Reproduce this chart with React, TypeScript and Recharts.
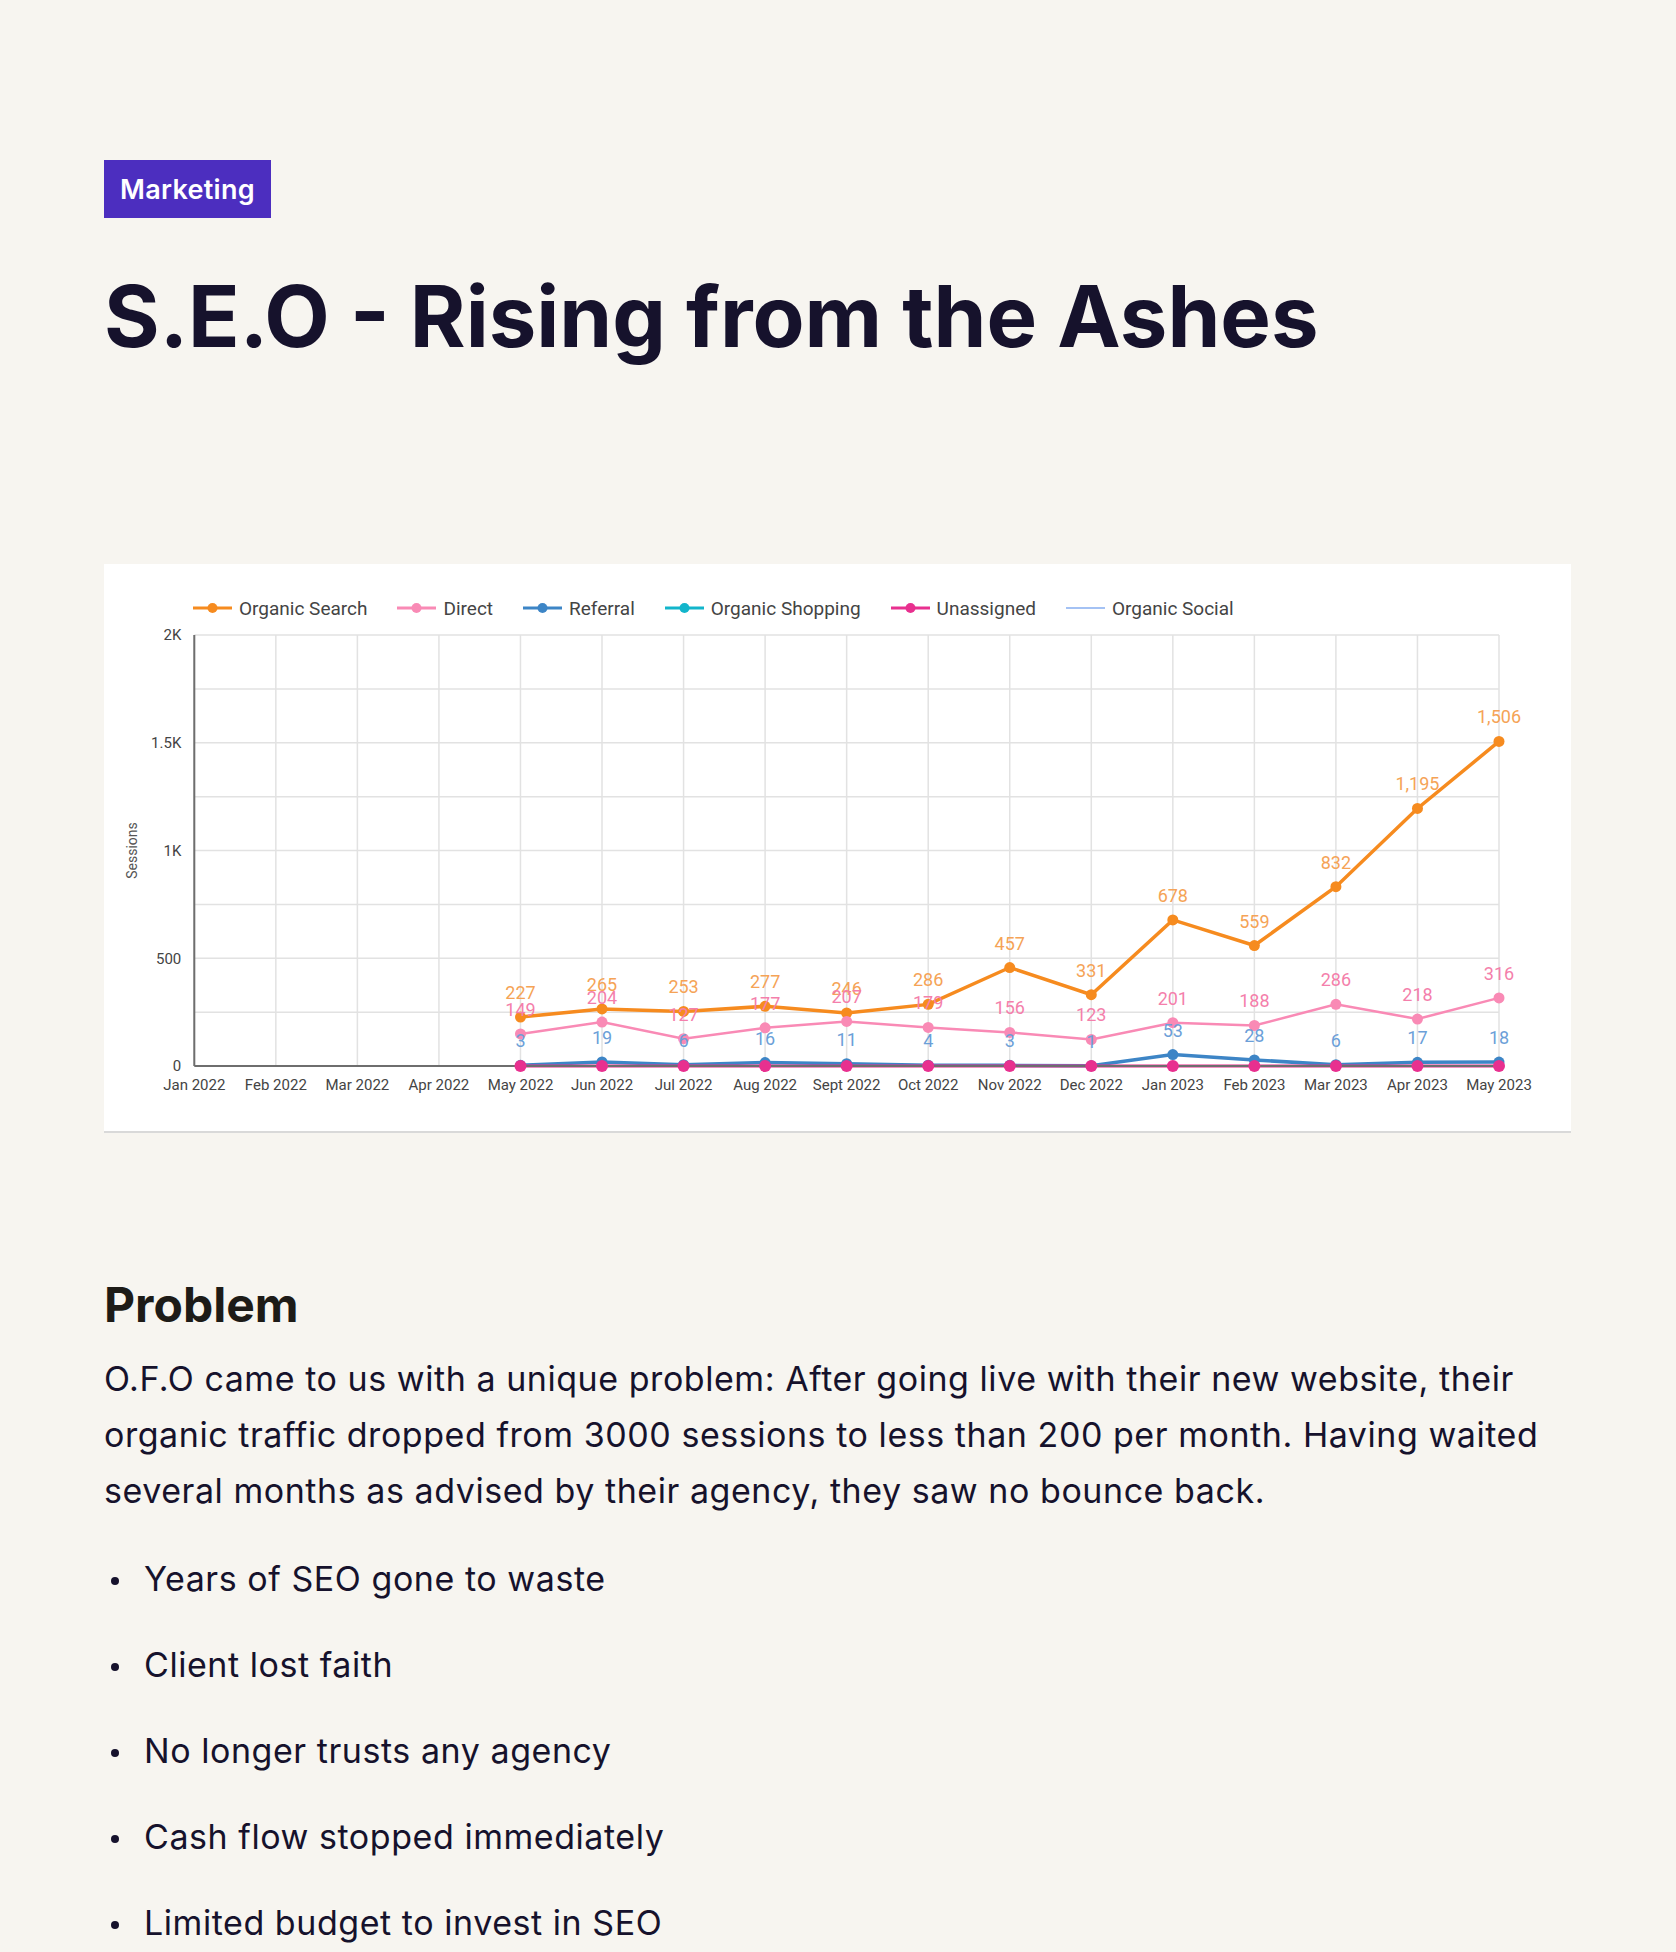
import { LineChart, Line, XAxis, YAxis, CartesianGrid, Legend, LabelList } from 'recharts';

// monthly sessions per channel (GA4 export)
const months = [
  'Jan 2022', 'Feb 2022', 'Mar 2022', 'Apr 2022', 'May 2022', 'Jun 2022', 'Jul 2022', 'Aug 2022',
  'Sept 2022', 'Oct 2022', 'Nov 2022', 'Dec 2022', 'Jan 2023', 'Feb 2023', 'Mar 2023', 'Apr 2023', 'May 2023',
];
const organicSearch = [null, null, null, null, 227, 265, 253, 277, 246, 286, 457, 331, 678, 559, 832, 1195, 1506];
const direct = [null, null, null, null, 149, 204, 127, 177, 207, 179, 156, 123, 201, 188, 286, 218, 316];
const referral = [null, null, null, null, 3, 19, 6, 16, 11, 4, 3, 1, 53, 28, 6, 17, 18];
const organicShopping = [null, null, null, null, null, null, null, null, null, null, null, null, null, null, null, null, null];
const unassigned = [null, null, null, null, 0, 0, 0, 0, 0, 0, 0, 0, 0, 0, 0, 0, 0];
const organicSocial = [null, null, null, null, null, null, null, null, null, null, null, null, null, null, null, null, null];

const yTicks = [0, 250, 500, 750, 1000, 1250, 1500, 1750, 2000];
const yTickLabels: Record<number, string> = { 0: '0', 500: '500', 1000: '1K', 1500: '1.5K', 2000: '2K' };

const bullets = [
  'Years of SEO gone to waste',
  'Client lost faith',
  'No longer trusts any agency',
  'Cash flow stopped immediately',
  'Limited budget to invest in SEO',
];

const series = [
  { key: 'organicSearch', name: 'Organic Search', color: '#f68b1f', labelColor: '#f5a356', width: 3.5, r: 5.5, dot: true, labels: true },
  { key: 'direct', name: 'Direct', color: '#f98ab5', labelColor: '#f47fab', width: 2.5, r: 5.5, dot: true, labels: true },
  { key: 'referral', name: 'Referral', color: '#3d85c6', labelColor: '#6c9fd8', width: 3.5, r: 5.5, dot: true, labels: true },
  { key: 'organicShopping', name: 'Organic Shopping', color: '#12b5cb', labelColor: '#12b5cb', width: 2.5, r: 5.5, dot: true, labels: false },
  { key: 'unassigned', name: 'Unassigned', color: '#e8308f', labelColor: '#e8308f', width: 3.5, r: 6, dot: true, labels: false },
  { key: 'organicSocial', name: 'Organic Social', color: '#a4c2f4', labelColor: '#a4c2f4', width: 2, r: 0, dot: false, labels: false },
];

const data = months.map((month, i) => ({
  month,
  organicSearch: organicSearch[i],
  direct: direct[i],
  referral: referral[i],
  organicShopping: organicShopping[i],
  unassigned: unassigned[i],
  organicSocial: organicSocial[i],
}));

const chartFont = 'Roboto, "Noto Sans", sans-serif';

function valueLabel(color: string) {
  return (props: any) => {
    const vb = props.viewBox || {};
    const x = props.x ?? vb.x;
    const y = props.y ?? vb.y;
    if (props.value == null || x == null || y == null) return null;
    return (
      <text x={x} y={y - 18} fill={color} fontSize={18} fontFamily={chartFont} textAnchor="middle">
        {Number(props.value).toLocaleString('en-US')}
      </text>
    );
  };
}

function ChannelLegend() {
  return (
    <div style={{ display: 'flex', alignItems: 'center', height: 24, fontFamily: chartFont, fontSize: 19, color: '#444', whiteSpace: 'nowrap' }}>
      {series.map((s) => (
        <div key={s.key} style={{ display: 'flex', alignItems: 'center', marginRight: 30 }}>
          <svg width={39} height={14} style={{ marginRight: 7 }}>
            <line x1={0} y1={7} x2={39} y2={7} stroke={s.color} strokeWidth={s.dot ? 3 : 2} />
            {s.dot && <circle cx={19.5} cy={7} r={5} fill={s.color} />}
          </svg>
          <span>{s.name}</span>
        </div>
      ))}
    </div>
  );
}

function SessionsChart() {
  return (
    <div style={{ position: 'absolute', left: 104, top: 564, width: 1467, height: 567, background: '#fff', borderBottom: '2px solid #d9d9d9' }}>
      <LineChart width={1467} height={567} data={data} margin={{ top: 71, right: 72, bottom: 35, left: 30.3 }}>
        <CartesianGrid stroke="#e2e2e2" strokeWidth={1.5} />
        <XAxis
          dataKey="month"
          interval={0}
          tickSize={0}
          tickMargin={13}
          height={30}
          stroke="#6e6e6e"
          strokeWidth={2}
          tick={{ fontSize: 15, fill: '#444', fontFamily: chartFont }}
        />
        <YAxis
          domain={[0, 2000]}
          ticks={yTicks}
          interval={0}
          width={60}
          tickSize={0}
          tickMargin={13}
          stroke="#6e6e6e"
          strokeWidth={2}
          tickFormatter={(v: number) => yTickLabels[v] ?? ''}
          tick={{ fontSize: 15, fill: '#444', fontFamily: chartFont }}
          label={{
            content: (p: any) => {
              const vb = p.viewBox || {};
              const cx = vb.x - 2.6;
              const cy = vb.y + vb.height / 2;
              return (
                <text x={cx} y={cy} transform={`rotate(-90, ${cx}, ${cy})`} textAnchor="middle" dominantBaseline="central"
                  fontSize={14} fill="#555" fontFamily={chartFont}>
                  Sessions
                </text>
              );
            },
          }}
        />
        <Legend verticalAlign="middle" align="center" layout="horizontal" content={() => <ChannelLegend />}
          wrapperStyle={{ top: 32, left: 89, width: 1250 }} />
        {series.map((s) => (
          <Line
            key={s.key}
            dataKey={s.key}
            name={s.name}
            stroke={s.color}
            strokeWidth={s.width}
            strokeOpacity={s.key === 'unassigned' ? 0.7 : 1}
            dot={s.dot ? { r: s.r, fill: s.color, stroke: s.color, strokeWidth: 0, fillOpacity: 1 } : false}
            activeDot={false}
            isAnimationActive={false}
          >
            {s.labels && <LabelList dataKey={s.key} content={valueLabel(s.labelColor)} />}
          </Line>
        ))}
      </LineChart>
    </div>
  );
}

export default function App() {
  const ink = '#16122c';
  return (
    <div style={{ position: 'absolute', left: 0, top: 0, width: 1676, height: 1952, background: '#f7f5f0', overflow: 'hidden', fontFamily: 'Inter, "Noto Sans", sans-serif' }}>
      <div style={{ position: 'absolute', left: 104, top: 160, width: 167, height: 58, background: '#4c2ebf', color: '#fff', fontSize: 27, fontWeight: 600, letterSpacing: 0.3, display: 'flex', alignItems: 'center', justifyContent: 'center' }}>
        Marketing
      </div>
      <div style={{ position: 'absolute', left: 104, top: 273.6, fontSize: 85, lineHeight: '85px', fontWeight: 700, color: ink, whiteSpace: 'nowrap' }}>
        S.E.O - Rising from the Ashes
      </div>

      <SessionsChart />

      <div style={{ position: 'absolute', left: 104, top: 1281.3, fontSize: 48, lineHeight: '48px', fontWeight: 700, color: '#1d1b17' }}>
        Problem
      </div>
      <div style={{ position: 'absolute', left: 104, top: 1350.6, fontSize: 34, lineHeight: '56px', letterSpacing: 0.55, color: ink, whiteSpace: 'nowrap' }}>
        O.F.O came to us with a unique problem: After going live with their new website, their<br />
        organic traffic dropped from 3000 sessions to less than 200 per month. Having waited<br />
        several months as advised by their agency, they saw no bounce back.
      </div>
      {bullets.map((b, i) => (
        <div key={b} style={{ position: 'absolute', left: 104, top: 1563.6 + i * 86.2, height: 30, fontSize: 34, lineHeight: '30px', letterSpacing: 0.55, color: ink, whiteSpace: 'nowrap', display: 'flex', alignItems: 'center' }}>
          <span style={{ display: 'inline-block', width: 8, height: 8, borderRadius: 4, background: ink, marginLeft: 7, marginRight: 25, marginTop: 4 }} />
          {b}
        </div>
      ))}
    </div>
  );
}
